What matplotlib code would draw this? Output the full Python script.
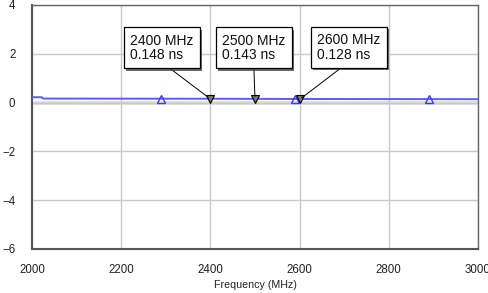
import matplotlib
matplotlib.use("Agg")
import matplotlib.pyplot as plt
import matplotlib.patheffects as pe

plt.rcParams['font.family'] = ['Liberation Sans', 'DejaVu Sans']

# data
freq = [2000, 2022, 2025, 2400, 2500, 2600, 3000]
delay = [0.22, 0.22, 0.165, 0.158, 0.153, 0.148, 0.14]
trace_marker_freq = [2290, 2590, 2890]
trace_marker_delay = [0.16, 0.15, 0.14]
mk_freq = [2400, 2500, 2600]
mk_delay = [0.148, 0.143, 0.128]
mk_labels = ["2400 MHz\n0.148 ns", "2500 MHz\n0.143 ns", "2600 MHz\n0.128 ns"]
mk_text_x = [2291, 2497, 2711]
mk_text_y = [2.24, 2.24, 2.26]
xticks = [2000, 2200, 2400, 2600, 2800, 3000]
yticks = [-6, -4, -2, 0, 2, 4]

fig = plt.figure(figsize=(4.88, 2.93), dpi=100)
ax = fig.add_axes([32/488, 1-249/293, 446/488, 244/293])
ax.set_xlim(2000, 3000)
ax.set_ylim(-6, 4)
ax.set_xticks(xticks)
ax.set_yticks(yticks)
ax.grid(True, color='#c8c8c8', lw=1.0, zorder=0)
ax.axhline(0, color='#dadada', lw=2.6, zorder=1)
ax.tick_params(length=0, labelsize=8.3, colors='#222222')
ax.tick_params(axis='x', pad=11)
ax.tick_params(axis='y', pad=12)
for s in ['left', 'bottom']:
    ax.spines[s].set_color('#555555')
    ax.spines[s].set_linewidth(1.5)
for s in ['top', 'right']:
    ax.spines[s].set_color('#666666')
    ax.spines[s].set_linewidth(1.0)

ax.plot(freq, delay, color='#5b5bff', lw=1.4, zorder=3)
ax.plot(trace_marker_freq, trace_marker_delay, ls='none', marker='^', ms=6,
        mfc='none', mec='#3b3bff', mew=1.0, zorder=4)
ax.plot(mk_freq, mk_delay, ls='none', marker='v', ms=5.5,
        mfc='#777777', mec='black', mew=0.8, zorder=5)

for fx, fy, lab, tx, ty in zip(mk_freq, mk_delay, mk_labels, mk_text_x, mk_text_y):
    ann = ax.annotate(lab, xy=(fx, fy), xytext=(tx, ty), ha='center', va='center',
                      multialignment='left',
                      fontsize=10, color='#111111', linespacing=1.05,
                      bbox=dict(boxstyle='square,pad=0.45', fc='white', ec='black', lw=0.9),
                      arrowprops=dict(arrowstyle='-', color='black', lw=0.7,
                                      relpos=(0.5, 0.0), shrinkA=0, shrinkB=2),
                      zorder=6)
    ann.get_bbox_patch().set_path_effects([
        pe.SimplePatchShadow(offset=(1.5, -1.5), shadow_rgbFace='#444444', alpha=0.8),
        pe.Normal()])

ax.set_xlabel('Frequency (MHz)', fontsize=7.7, color='#222222', labelpad=3)
fig.text(210.5/488, 1 + 3/293, 'Group Delay', fontsize=9, fontweight='bold',
         ha='left', va='baseline', color='#222222')

fig.savefig('out.png', dpi=100)
